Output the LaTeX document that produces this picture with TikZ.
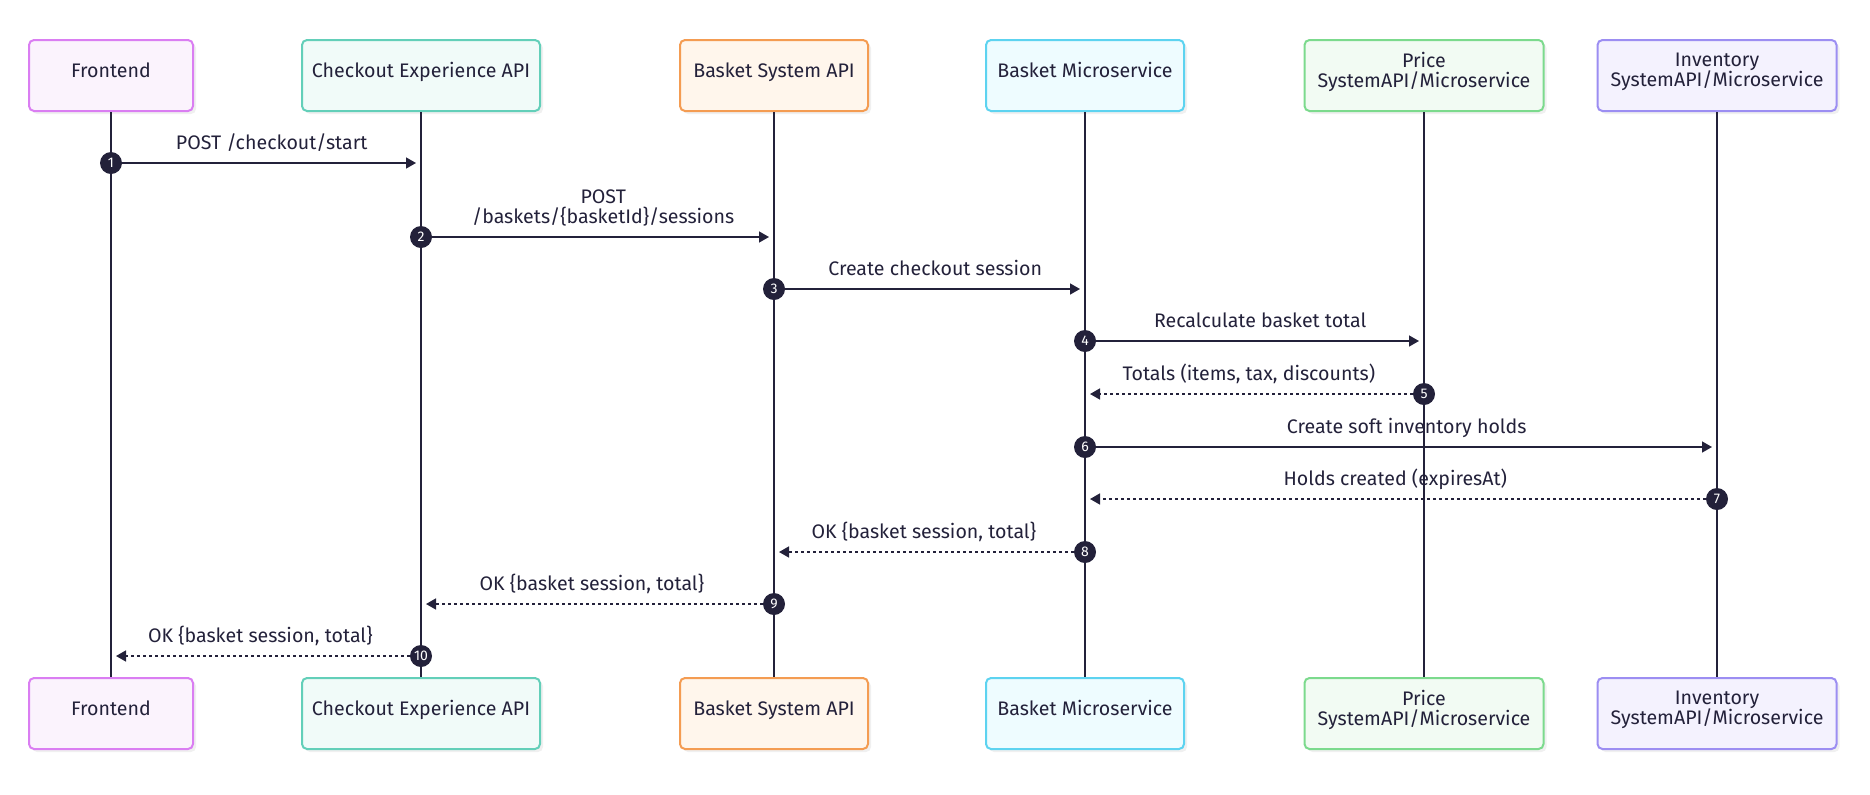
\documentclass[tikz,border=0pt]{standalone}
\usepackage{fontspec}
\setmainfont{Fira Sans}
\usetikzlibrary{arrows.meta, shadows}

\definecolor{ink}{HTML}{23213A}
\definecolor{feline}{HTML}{DA7EF2}
\definecolor{fefill}{HTML}{FBF3FD}
\definecolor{celine}{HTML}{63CFB9}
\definecolor{cefill}{HTML}{F1FBF9}
\definecolor{bsline}{HTML}{F49C52}
\definecolor{bsfill}{HTML}{FFF6EC}
\definecolor{bmline}{HTML}{5DD3F0}
\definecolor{bmfill}{HTML}{EEFCFF}
\definecolor{prline}{HTML}{7CDA8D}
\definecolor{prfill}{HTML}{F2FBF3}
\definecolor{invline}{HTML}{9C8EF2}
\definecolor{invfill}{HTML}{F4F2FE}

\tikzset{
  actor/.style={draw=#1line, fill=#1fill, line width=1pt, rounded corners=2.5pt,
    minimum height=35.5pt, align=center, text=ink, text depth=5.8pt,
    font=\fontsize{9.8}{10}\selectfont,
    drop shadow={shadow xshift=1.5pt, shadow yshift=-1.5pt, fill=black!6, opacity=1}},
  life/.style={draw=ink, line width=0.9pt},
  call/.style={draw=ink, line width=0.75pt, -{Triangle[length=5pt,width=5.5pt]}, shorten >=2.5pt},
  reply/.style={call, dash pattern=on 1.5pt off 1.5pt},
  seqno/.style={circle, fill=ink, text=white, inner sep=0pt, minimum size=11pt,
    font=\fontsize{7}{7}\selectfont},
  msglbl/.style={anchor=south, inner sep=0pt, text depth=0pt, yshift=6.25pt, align=center,
    text=ink, font=\fontsize{9.8}{10}\selectfont}
}

\begin{document}
\begin{tikzpicture}[x=0.5pt, y={(0pt,-0.5pt)}]
\useasboundingbox (0,0) rectangle (1870,794);

% participants and lifelines
\foreach \n/\x/\w/\t in {fe/111/82/Frontend, ce/421/119/Checkout Experience API,
    bs/774/94/Basket System API, bm/1085/99/Basket Microservice,
    pr/1424/119.5/{Price\\SystemAPI/Microservice}, inv/1717/119.5/{Inventory\\SystemAPI/Microservice}}
{
  \node[actor=\n, minimum width=\w pt] (\n-top) at (\x,75.5) {\t};
  \node[actor=\n, minimum width=\w pt] (\n-bot) at (\x,713.5) {\t};
  \draw[life] (\n-top) -- (\n-bot);
}

% messages
\node[seqno] (n1) at (111,163) {1};
\coordinate (m1) at (421,163);
\draw[call] (n1) -- node[msglbl] {POST /checkout/start} (m1);

\node[seqno] (n2) at (421,237) {2};
\coordinate (m2) at (774,237);
\draw[call] (n2) -- node[msglbl] {POST\\/baskets/\{basketId\}/sessions} (m2);

\node[seqno] (n3) at (774,289) {3};
\coordinate (m3) at (1085,289);
\draw[call] (n3) -- node[msglbl] {Create checkout session} (m3);

\node[seqno] (n4) at (1085,341) {4};
\coordinate (m4) at (1424,341);
\draw[call] (n4) -- node[msglbl] {Recalculate basket total} (m4);

\node[seqno] (n5) at (1424,394) {5};
\coordinate (m5) at (1085,394);
\draw[reply] (n5) -- node[msglbl] {Totals (items, tax, discounts)} (m5);

\node[seqno] (n6) at (1085,447) {6};
\coordinate (m6) at (1717,447);
\draw[call] (n6) -- node[msglbl] {Create soft inventory holds} (m6);

\node[seqno] (n7) at (1717,499) {7};
\coordinate (m7) at (1085,499);
\draw[reply] (n7) -- node[msglbl] {Holds created (expiresAt)} (m7);

\node[seqno] (n8) at (1085,552) {8};
\coordinate (m8) at (774,552);
\draw[reply] (n8) -- node[msglbl] {OK \{basket session, total\}} (m8);

\node[seqno] (n9) at (774,604) {9};
\coordinate (m9) at (421,604);
\draw[reply] (n9) -- node[msglbl] {OK \{basket session, total\}} (m9);

\node[seqno] (n10) at (421,656) {10};
\coordinate (m10) at (111,656);
\draw[reply] (n10) -- node[msglbl] {OK \{basket session, total\}} (m10);
\end{tikzpicture}
\end{document}
